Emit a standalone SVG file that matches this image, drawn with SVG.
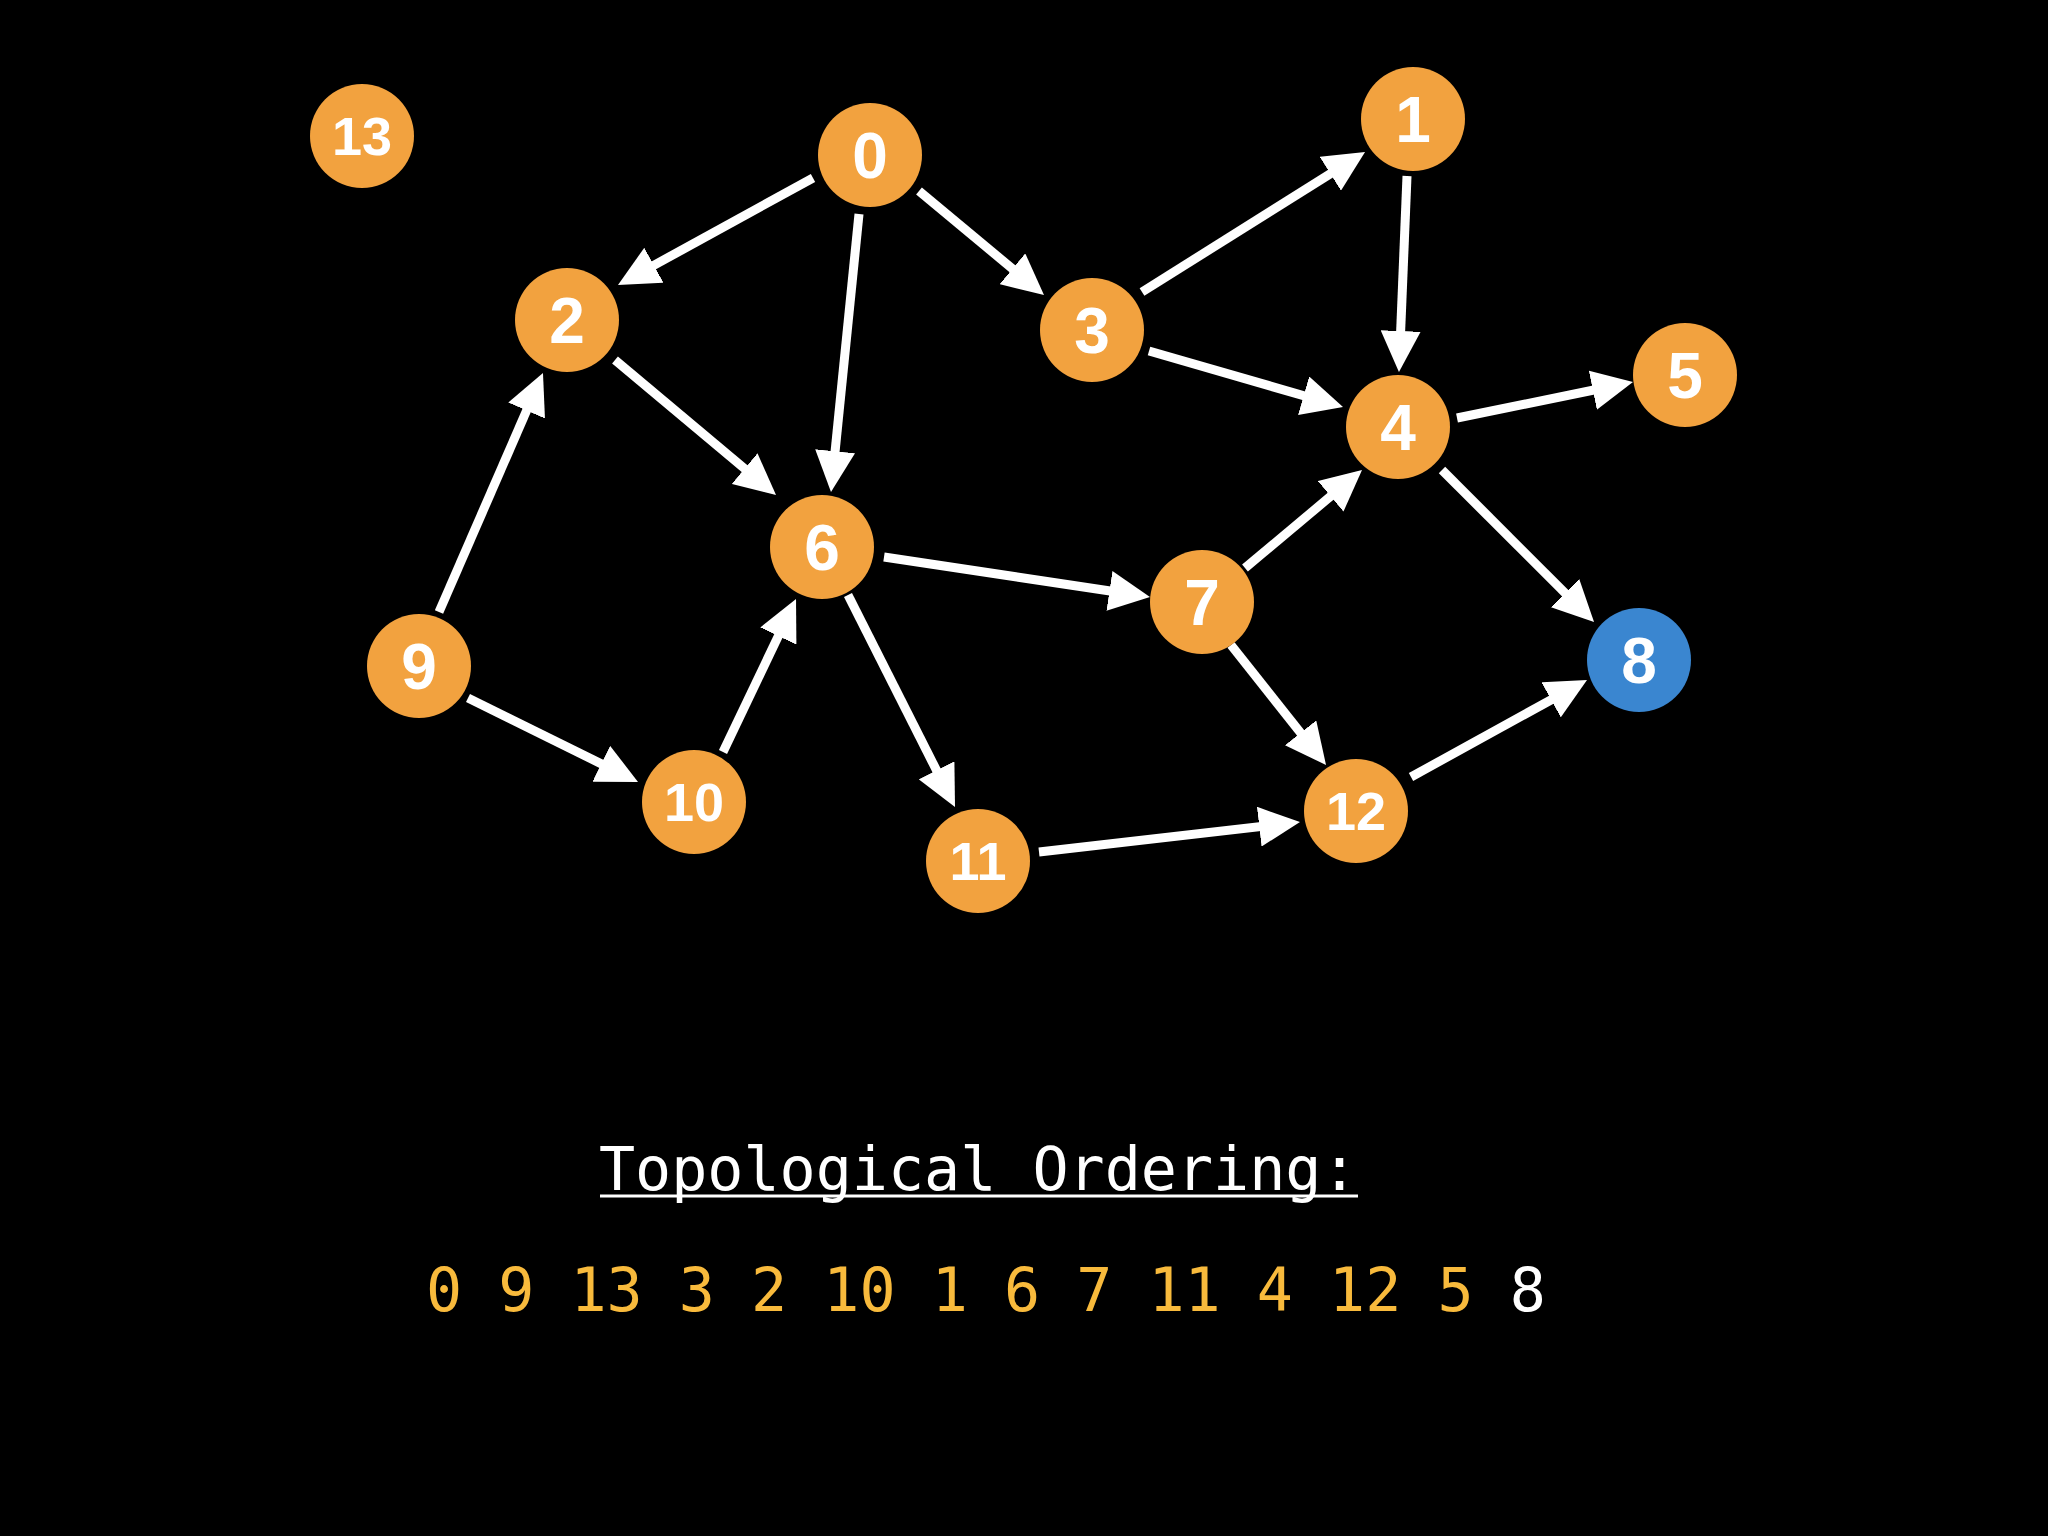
<svg xmlns="http://www.w3.org/2000/svg" width="2048" height="1536" viewBox="0 0 2048 1536">
<style>
.bg{fill:#000}
.n circle{fill:#F2A23F}
.n.blue circle{fill:#3A86D0}
.n text{fill:#fff;font-family:"Liberation Sans",Arial,sans-serif;font-weight:bold;text-anchor:middle}
.n text.d1{font-size:64px}
.n text.d2{font-size:54px}
#edges line{stroke:#fff;stroke-width:9;marker-end:url(#ah)}
.mono{font-family:"DejaVu Sans Mono","Liberation Mono",monospace;font-size:60px}
</style>
<defs>
<marker id="ah" markerUnits="userSpaceOnUse" markerWidth="41" markerHeight="40" refX="21" refY="20" orient="auto">
<path d="M0,0 L41,20 L0,40 z" fill="#fff"/>
</marker>
</defs>
<rect class="bg" x="0" y="0" width="2048" height="1536"/>
<g id="edges">
<line x1="813" y1="178" x2="635.5" y2="275.4"/>
<line x1="859" y1="214" x2="833.0" y2="472.1"/>
<line x1="919" y1="191" x2="1028.6" y2="282.2"/>
<line x1="1142" y1="292" x2="1348.1" y2="162.6"/>
<line x1="1407" y1="176" x2="1399.8" y2="352.0"/>
<line x1="1149" y1="351" x2="1323.8" y2="401.5"/>
<line x1="1457" y1="418" x2="1613.4" y2="386.0"/>
<line x1="1442" y1="470" x2="1579.9" y2="607.9"/>
<line x1="1245" y1="568" x2="1346.7" y2="482.8"/>
<line x1="615" y1="360" x2="760.7" y2="482.1"/>
<line x1="439" y1="612" x2="535.0" y2="391.3"/>
<line x1="884" y1="557" x2="1130.2" y2="594.0"/>
<line x1="468" y1="698" x2="620.1" y2="773.1"/>
<line x1="723" y1="752" x2="787.4" y2="617.1"/>
<line x1="848" y1="595" x2="946.0" y2="789.1"/>
<line x1="1231" y1="645" x2="1313.6" y2="749.3"/>
<line x1="1039" y1="852" x2="1280.1" y2="824.3"/>
<line x1="1411" y1="777" x2="1569.5" y2="689.7"/>
</g>
<g id="node-13" class="n"><circle cx="362" cy="136" r="52"/><text class="d2" x="362" y="155">13</text></g>
<g id="node-0" class="n"><circle cx="870" cy="155" r="52"/><text class="d1" x="870" y="178">0</text></g>
<g id="node-1" class="n"><circle cx="1413" cy="119" r="52"/><text class="d1" x="1413" y="142">1</text></g>
<g id="node-2" class="n"><circle cx="567" cy="320" r="52"/><text class="d1" x="567" y="343">2</text></g>
<g id="node-3" class="n"><circle cx="1092" cy="330" r="52"/><text class="d1" x="1092" y="353">3</text></g>
<g id="node-4" class="n"><circle cx="1398" cy="427" r="52"/><text class="d1" x="1398" y="450">4</text></g>
<g id="node-5" class="n"><circle cx="1685" cy="375" r="52"/><text class="d1" x="1685" y="398">5</text></g>
<g id="node-6" class="n"><circle cx="822" cy="547" r="52"/><text class="d1" x="822" y="570">6</text></g>
<g id="node-7" class="n"><circle cx="1202" cy="602" r="52"/><text class="d1" x="1202" y="625">7</text></g>
<g id="node-8" class="n blue"><circle cx="1639" cy="660" r="52"/><text class="d1" x="1639" y="683">8</text></g>
<g id="node-9" class="n"><circle cx="419" cy="666" r="52"/><text class="d1" x="419" y="689">9</text></g>
<g id="node-10" class="n"><circle cx="694" cy="802" r="52"/><text class="d2" x="694" y="821">10</text></g>
<g id="node-11" class="n"><circle cx="978" cy="861" r="52"/><text class="d2" x="978" y="880">11</text></g>
<g id="node-12" class="n"><circle cx="1356" cy="811" r="52"/><text class="d2" x="1356" y="830">12</text></g>
<text class="mono" x="599" y="1190" fill="#fff">Topological Ordering:</text>
<line x1="600" y1="1196" x2="1358" y2="1196" stroke="#fff" stroke-width="3"/>
<text class="mono" x="426" y="1311" fill="#F8BA3C">0 9 13 3 2 10 1 6 7 11 4 12 5 <tspan fill="#fff">8</tspan></text>
</svg>
